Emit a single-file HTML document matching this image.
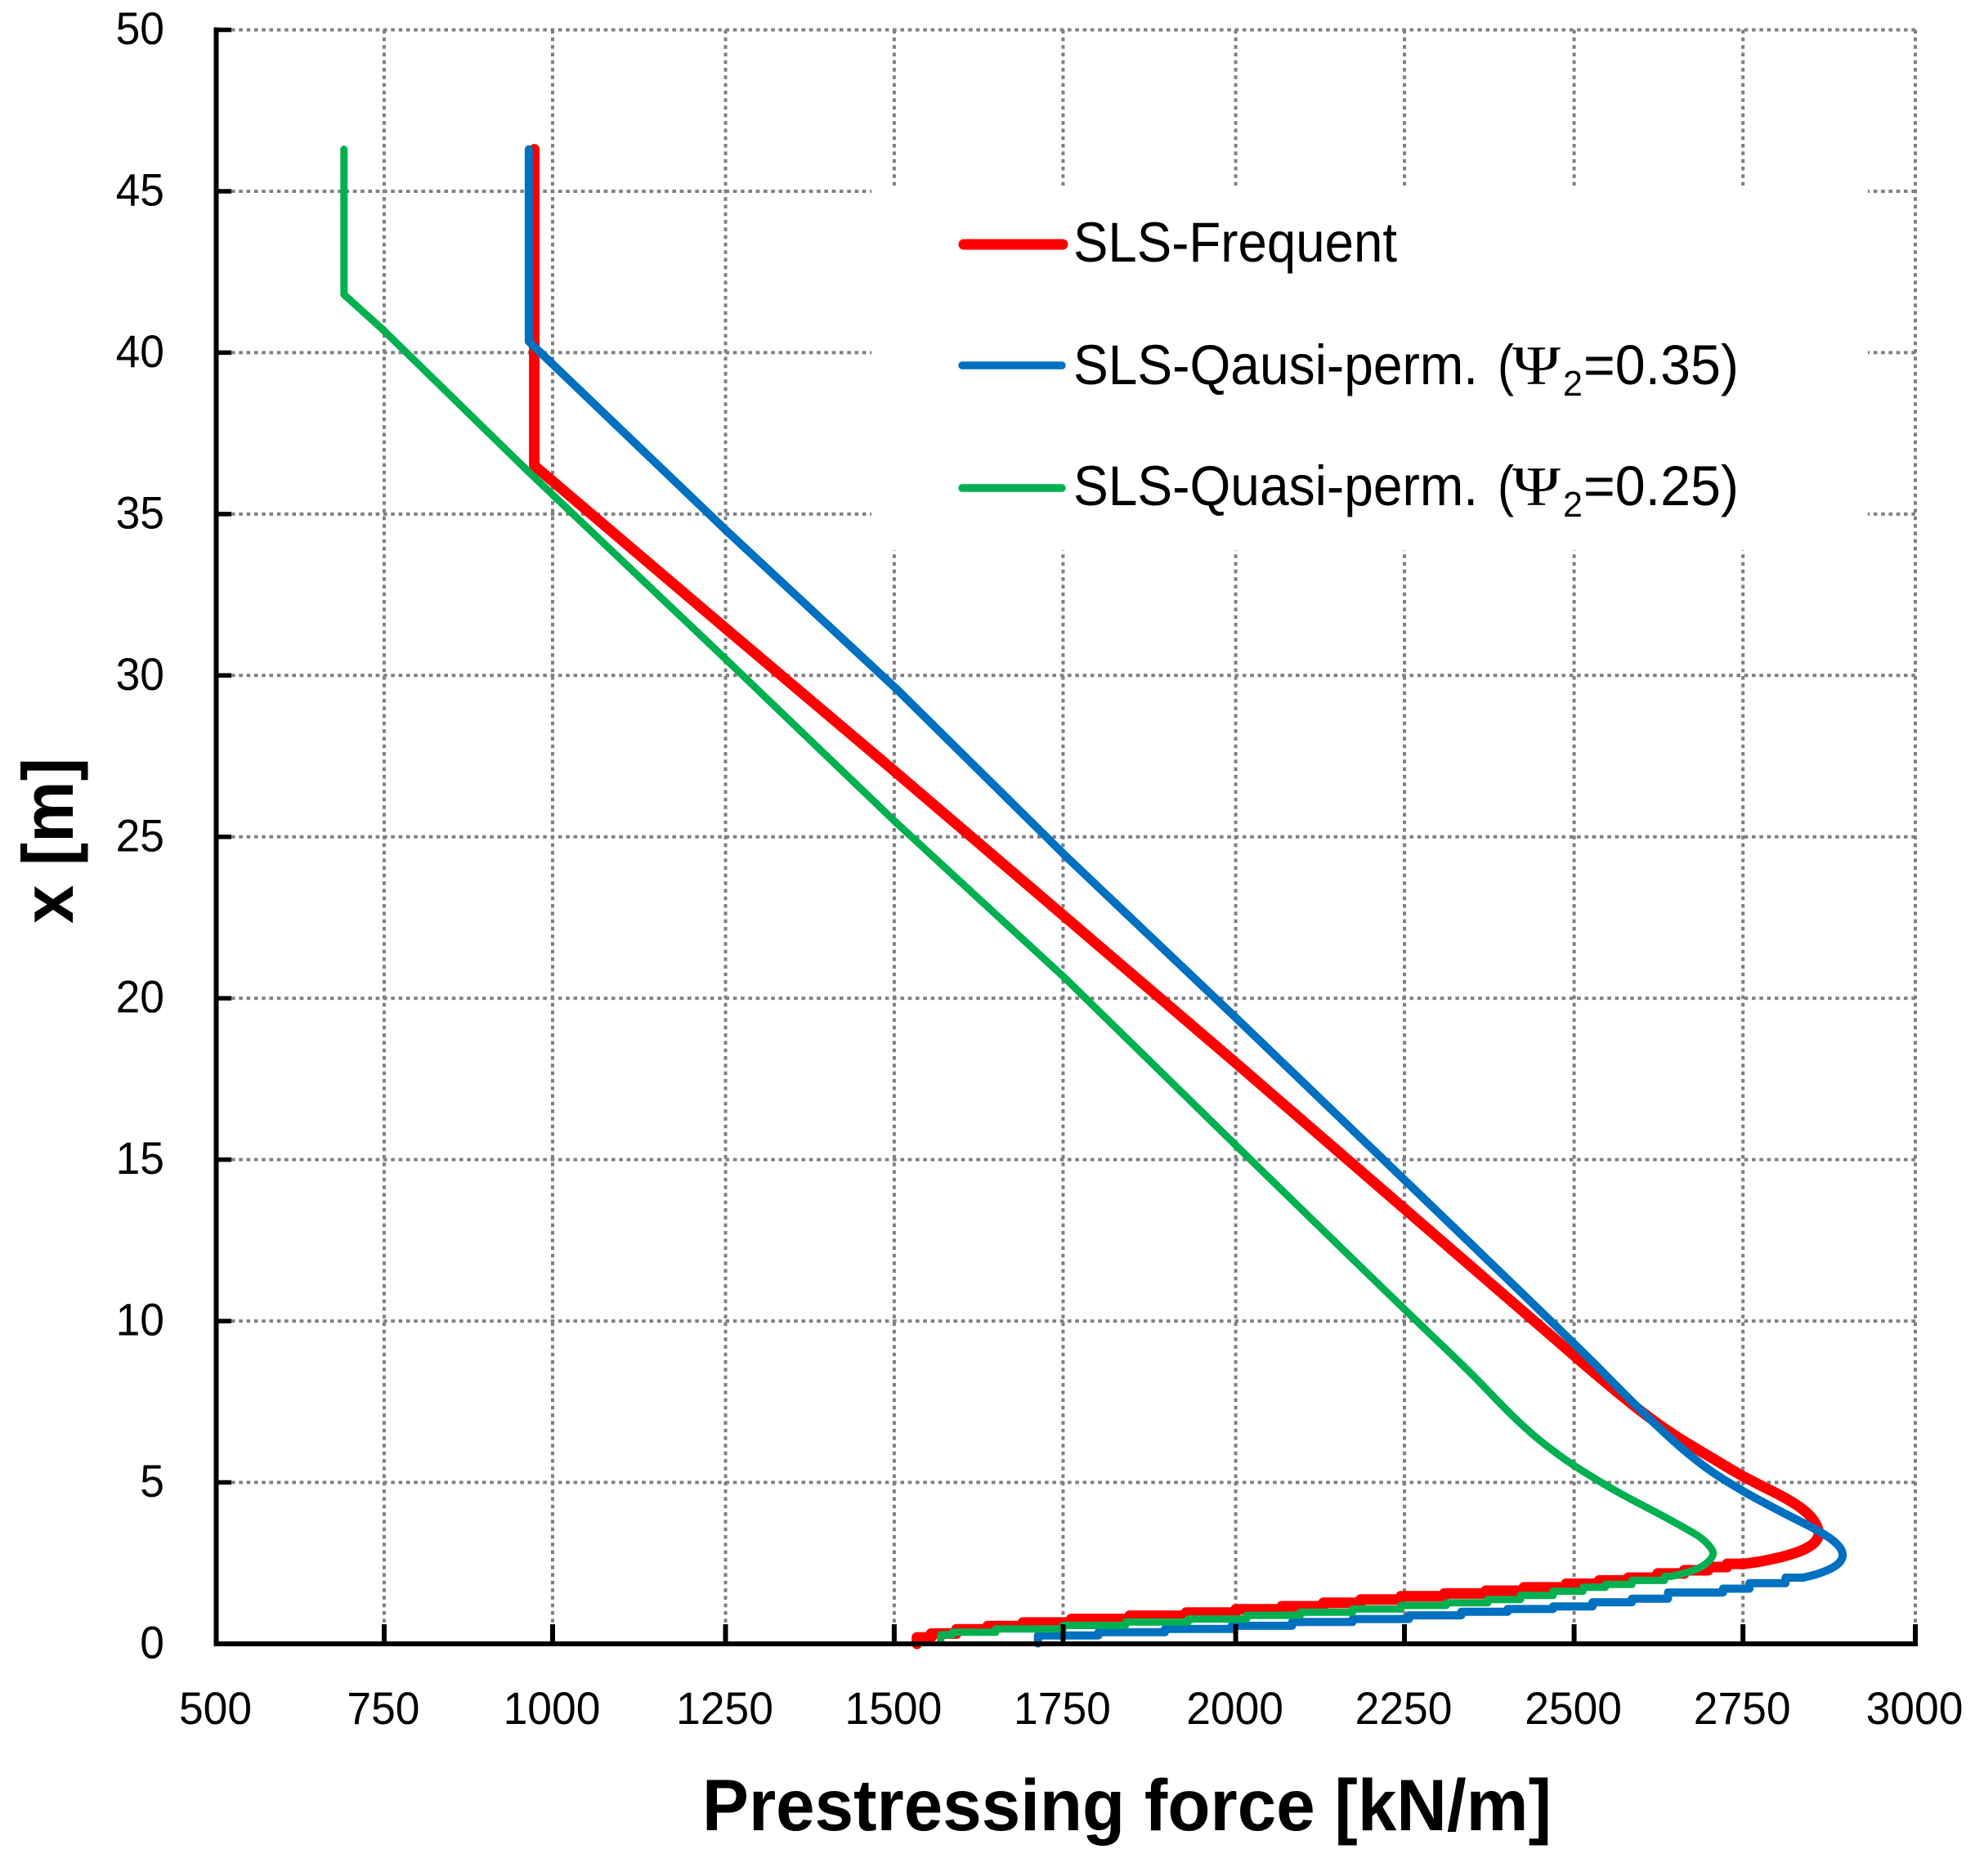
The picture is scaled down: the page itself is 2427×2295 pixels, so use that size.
<!DOCTYPE html>
<html lang="en">
<head>
<meta charset="utf-8">
<title>Prestressing force chart</title>
<style>
html,body{margin:0;padding:0;background:#fff;width:2427px;height:2295px;overflow:hidden}
svg{display:block;position:absolute;left:0;top:0}
text{font-family:"Liberation Sans",sans-serif;fill:#000}
</style>
</head>
<body>
<svg id="chart" xmlns="http://www.w3.org/2000/svg" width="2427" height="2295" viewBox="0 0 2427 2295">
  <rect x="0" y="0" width="2427" height="2295" fill="#ffffff"/>
  <g id="grid"></g>
  <rect x="1066" y="227" width="1219" height="446" fill="#ffffff"/>
  <g id="series"></g>
  <g id="axes"></g>

  <text x="859" y="2239" font-size="89" font-weight="700" textLength="1039" lengthAdjust="spacingAndGlyphs">Prestressing force [kN/m]</text>
  <text transform="translate(89,1130) rotate(-90)" x="0" y="0" font-size="88" font-weight="700" textLength="203" lengthAdjust="spacingAndGlyphs">x [m]</text>

  <g>
    <g>
      <line x1="1179" y1="299" x2="1300" y2="299" stroke="#ff0000" stroke-width="13" stroke-linecap="round"/>
      <text x="1313" y="320" font-size="69" textLength="396" lengthAdjust="spacingAndGlyphs">SLS-Frequent</text>
    </g>
    <g>
      <line x1="1177" y1="447" x2="1299" y2="447" stroke="#0070c0" stroke-width="9.5" stroke-linecap="round"/>
      <text x="1313" y="470" font-size="69" textLength="495" lengthAdjust="spacingAndGlyphs">SLS-Qausi-perm.</text>
      <text x="1832" y="470" font-size="69" textLength="20" lengthAdjust="spacingAndGlyphs">(</text>
      <text x="1850" y="470" font-size="68" style="font-family:'Liberation Serif',serif" textLength="59" lengthAdjust="spacingAndGlyphs">Ψ</text>
      <text x="1912" y="484" font-size="44" textLength="24" lengthAdjust="spacingAndGlyphs">2</text>
      <text x="1937" y="470" font-size="69" textLength="190" lengthAdjust="spacingAndGlyphs">=0.35)</text>
    </g>
    <g>
      <line x1="1177" y1="597" x2="1299" y2="597" stroke="#00b050" stroke-width="9.5" stroke-linecap="round"/>
      <text x="1313" y="618" font-size="69" textLength="495" lengthAdjust="spacingAndGlyphs">SLS-Quasi-perm.</text>
      <text x="1832" y="618" font-size="69" textLength="20" lengthAdjust="spacingAndGlyphs">(</text>
      <text x="1850" y="618" font-size="68" style="font-family:'Liberation Serif',serif" textLength="59" lengthAdjust="spacingAndGlyphs">Ψ</text>
      <text x="1912" y="632" font-size="44" textLength="24" lengthAdjust="spacingAndGlyphs">2</text>
      <text x="1937" y="618" font-size="69" textLength="190" lengthAdjust="spacingAndGlyphs">=0.25)</text>
    </g>
  </g>
</svg>
<script>
var xTicks = [500, 750, 1000, 1250, 1500, 1750, 2000, 2250, 2500, 2750, 3000];
var yTicks = [0, 5, 10, 15, 20, 25, 30, 35, 40, 45, 50];

var frequentForce = [968, 968, 1250, 1500, 1750, 2000, 2495, 2547, 2596, 2647, 2708, 2748, 2812, 2844, 2858, 2858, 2844, 2812, 2776, 2748,
  2723, 2695, 2660, 2621, 2578, 2535, 2486, 2424, 2368, 2307, 2243, 2184, 2129, 2068, 2000, 1927, 1844, 1758, 1687, 1635, 1589, 1552, 1531];
var frequentX = [46.3, 36.5, 31.45, 27.0, 22.5, 18.0, 8.97, 8.05, 7.2, 6.43, 5.67, 5.16, 4.5, 4.03, 3.57, 3.27, 2.98, 2.73, 2.56, 2.48,
  2.38, 2.28, 2.18, 2.05, 1.965, 1.86, 1.75, 1.645, 1.56, 1.476, 1.375, 1.27, 1.165, 1.07, 0.97, 0.87, 0.77, 0.66, 0.55, 0.45, 0.32, 0.2, 0];
var frequentSmoothFrom = 6;
var frequentStepFrom = 20;

var quasi035Force = [960, 960, 1250, 1500, 1750, 2000, 2495, 2575, 2627, 2687, 2748, 2808, 2864, 2888, 2895, 2886, 2860, 2835,
  2809, 2756, 2717, 2636, 2583, 2525, 2467, 2400, 2332, 2255, 2172, 2083, 1994, 1896, 1798, 1709];
var quasi035X = [46.3, 40.35, 34.5, 29.6, 24.4, 19.4, 9.39, 7.67, 6.6, 5.5, 4.7, 4.03, 3.44, 3.06, 2.73, 2.43, 2.18, 2.05,
  1.88, 1.71, 1.59, 1.40, 1.29, 1.16, 1.08, 0.995, 0.885, 0.77, 0.675, 0.56, 0.46, 0.36, 0.26, 0.01];
var quasi035SmoothFrom = 6;
var quasi035StepFrom = 18;

var quasi025Force = [688, 688, 746, 960, 1250, 1500, 1750, 2000, 2250, 2347, 2400, 2440, 2470, 2499, 2547, 2587, 2627, 2660, 2687, 2703, 2702, 2687, 2660, 2640,
  2631, 2583, 2544, 2511, 2467, 2419, 2371, 2310, 2243, 2172, 2095, 2016, 1930, 1838, 1746, 1647, 1583, 1566];
var quasi025X = [46.3, 41.8, 40.7, 36.3, 30.5, 25.45, 20.6, 15.45, 10.32, 8.38, 7.2, 6.42, 5.93, 5.5, 4.88, 4.42, 3.98, 3.6, 3.27, 2.89, 2.68, 2.38, 2.18, 2.09,
  1.965, 1.84, 1.755, 1.63, 1.5, 1.375, 1.27, 1.19, 1.08, 0.98, 0.885, 0.77, 0.675, 0.57, 0.46, 0.36, 0.28, 0.05];
var quasi025SmoothFrom = 8;
var quasi025StepFrom = 24;

var NS = 'http://www.w3.org/2000/svg';
var X0 = 264.5, X1 = 2343, Y0 = 2011, Y1 = 36.5;
var DIGIT_WIDTH = 29.7;

function scaleX(v) { return X0 + (v - 500) / (3000 - 500) * (X1 - X0); }
function scaleY(v) { return Y0 + v / 50 * (Y1 - Y0); }

function xTickPixel(t, i) {
  var rounding = [0, -2.4, -4.2, -0.5, -2, -3.3, 0, -1.4, -1.7, -3, 0];
  return scaleX(t) + rounding[i];
}

function make(tag, attrs) {
  var el = document.createElementNS(NS, tag);
  for (var k in attrs) { el.setAttribute(k, attrs[k]); }
  return el;
}

var gridG = document.getElementById('grid');
var axesG = document.getElementById('axes');
var seriesG = document.getElementById('series');

xTicks.forEach(function (t, i) {
  var px = xTickPixel(t, i);
  if (t !== 500) {
    var g = make('line', { x1: px, y1: Y1, x2: px, y2: 1987, stroke: '#808080', 'stroke-width': 4, 'stroke-dasharray': '4.6 4.7' });
    
    
    gridG.appendChild(g);
    var tick = make('line', { x1: px, y1: Y0, x2: px, y2: 1987, stroke: '#000', 'stroke-width': 6 });
    
    
    axesG.appendChild(tick);
  }
  var label = make('text', { x: px - 1, y: 2109, 'font-size': 56, 'text-anchor': 'middle', textLength: String(t).length * DIGIT_WIDTH, lengthAdjust: 'spacingAndGlyphs' });
  
  
  label.textContent = t;
  axesG.appendChild(label);
});

yTicks.forEach(function (t) {
  var py = scaleY(t);
  if (t !== 0) {
    var g = make('line', { x1: 283, y1: py, x2: X1, y2: py, stroke: '#808080', 'stroke-width': 4, 'stroke-dasharray': '4.6 4.7' });
    
    
    gridG.appendChild(g);
    var tick = make('line', { x1: X0, y1: py, x2: 283, y2: py, stroke: '#000', 'stroke-width': 5.5 });
    
    
    axesG.appendChild(tick);
  }
  var label = make('text', { x: 201, y: py + 17.5, 'font-size': 56, 'text-anchor': 'end', textLength: String(t).length * DIGIT_WIDTH, lengthAdjust: 'spacingAndGlyphs' });
  
  
  label.textContent = t;
  axesG.appendChild(label);
});

var yAxis = make('line', { x1: X0, y1: Y1 - 3, x2: X0, y2: Y0 + 3, stroke: '#000', 'stroke-width': 6 });


axesG.appendChild(yAxis);

var xAxis = make('line', { x1: X0 - 3, y1: Y0, x2: X1 + 3, y2: Y0, stroke: '#000', 'stroke-width': 6 });


axesG.appendChild(xAxis);

function buildPath(forces, heights, smoothFrom, stepFrom) {
  var d = 'M' + scaleX(forces[0]).toFixed(1) + ' ' + scaleY(heights[0]).toFixed(1);
  for (var i = 1; i < forces.length; i++) {
    var px = scaleX(forces[i]);
    var py = scaleY(heights[i]);
    if (i >= smoothFrom && i < stepFrom - 1) {
      var mx = (px + scaleX(forces[i + 1])) / 2;
      var my = (py + scaleY(heights[i + 1])) / 2;
      d += 'Q' + px.toFixed(1) + ' ' + py.toFixed(1) + ' ' + mx.toFixed(1) + ' ' + my.toFixed(1);
    } else {
      if (i >= stepFrom) {
        d += 'L' + px.toFixed(1) + ' ' + scaleY(heights[i - 1]).toFixed(1);
      }
      d += 'L' + px.toFixed(1) + ' ' + py.toFixed(1);
    }
  }
  return d;
}

var redLine = make('path', { d: buildPath(frequentForce, frequentX, frequentSmoothFrom, frequentStepFrom), fill: 'none', stroke: '#ff0000', 'stroke-width': 13, 'stroke-linejoin': 'round', 'stroke-linecap': 'round' });


seriesG.appendChild(redLine);

var blueLine = make('path', { d: buildPath(quasi035Force, quasi035X, quasi035SmoothFrom, quasi035StepFrom), fill: 'none', stroke: '#0070c0', 'stroke-width': 10, 'stroke-linejoin': 'round', 'stroke-linecap': 'round' });


seriesG.appendChild(blueLine);

var greenLine = make('path', { d: buildPath(quasi025Force, quasi025X, quasi025SmoothFrom, quasi025StepFrom), fill: 'none', stroke: '#00b050', 'stroke-width': 9, 'stroke-linejoin': 'round', 'stroke-linecap': 'round' });


seriesG.appendChild(greenLine);
</script>
</body>
</html>
